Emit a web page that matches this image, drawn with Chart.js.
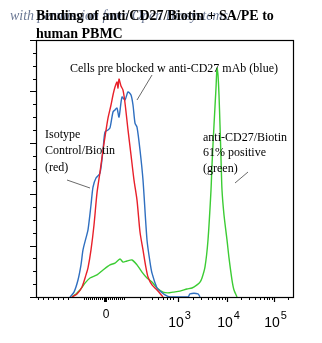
<!DOCTYPE html>
<html>
<head>
<meta charset="utf-8">
<script src="https://cdn.jsdelivr.net/npm/chart.js@4.4.0/dist/chart.umd.min.js"></script>
<style>
  html, body { margin: 0; padding: 0; background: #fff; }
  #wrap { width: 322px; height: 343px; position: relative; }
</style>
</head>
<body>
<div id="wrap"><canvas id="histo"></canvas></div>
<script>
// fluorescence channel (display units) vs. event count
const redX = [36, 41, 46, 50, 52, 55, 58, 61, 64, 67, 69, 72, 75, 77, 79, 81, 82, 83, 85, 87, 89, 92, 95, 98, 101, 104, 107, 110, 112, 116, 121, 127];
const redY = [0, 1.2, 3.9, 8.6, 11.3, 18.3, 28, 40.5, 48.6, 57.2, 62.3, 69.6, 74.7, 78.6, 81.7, 83.7, 81.3, 84.8, 82.1, 80.5, 75.5, 65, 55.3, 45.5, 37.7, 25.3, 18.3, 11.3, 7.8, 4.7, 2.7, 0];

const blueX = [34, 38, 42, 45, 47, 50, 52, 55, 57, 60, 64, 67, 69, 72, 74, 77, 79, 81, 83, 86, 89, 92, 95, 97, 99, 101, 104, 107, 111, 114, 116, 121, 124, 129, 134, 152, 154, 162, 164];
const blueY = [0, 1.9, 6.6, 12.5, 18.3, 23, 26.1, 35.8, 42.8, 46.3, 48.2, 57.2, 64.2, 65, 65.8, 72, 72.8, 73.5, 70, 77.8, 76.7, 79.8, 78.6, 74.7, 67.7, 66.1, 57.2, 45.5, 22.2, 13.6, 9.3, 3.5, 2.3, 0.8, 0, 0, 1.2, 1.2, 0];

const greenX = [36, 40, 44, 49, 54, 61, 67, 74, 79, 84, 87, 91, 96, 101, 106, 111, 116, 121, 127, 132, 137, 144, 151, 156, 161, 164, 166, 169, 172, 175, 176, 178, 180, 181, 182, 183, 184, 185, 186, 188, 191, 193, 196, 198, 201];
const greenY = [0, 1.2, 2.7, 5.4, 7.4, 8.6, 10.5, 12.5, 13.2, 14.8, 13.6, 14, 14.4, 12.5, 9.7, 7.4, 5.8, 3.5, 1.9, 1.6, 1.9, 2.3, 3.1, 3.5, 4.7, 5.8, 7.4, 11.7, 22.2, 41.6, 51.4, 66.9, 81.3, 89.1, 86.4, 78.6, 66.9, 54.1, 41.6, 31.9, 22.2, 15.2, 6.6, 2.7, 0];

// x axis: labelled decades and minor ticks (channel units)
const majorTicks = [69, 142, 191, 238];
const labelBase = ['0', '10', '10', '10'];
const labelExp = ['', '3', '4', '5'];
const minorTicks = [2, 7, 12, 17, 22, 27, 32, 48, 50, 52, 54, 56, 58, 60, 62, 64, 66, 72, 74, 76, 78, 80, 82, 84, 86, 88,
  104, 116, 122, 127, 131, 134, 137, 157, 165, 172, 176, 180, 183, 186, 189, 205, 213, 219, 224, 228, 231, 233, 236, 252];

const pts = (xs, ys) => xs.map((x, i) => ({ x: x, y: ys[i] }));

const decorations = {
    id: 'decorations',
    afterDraw(chart) {
        const { ctx, chartArea: a, scales } = chart;
        const sx = scales.x, sy = scales.y;
        ctx.save();

        // frame
        ctx.strokeStyle = '#000';
        ctx.lineWidth = 1.2;
        ctx.strokeRect(a.left + 0.5, a.top + 0.5, a.right - a.left, a.bottom - a.top);

        // y ticks (no labels)
        ctx.lineWidth = 1;
        for (let v = 0; v <= 100; v += 5) {
            const y = Math.round(sy.getPixelForValue(v)) + 0.5;
            const len = v % 20 === 0 ? 6 : 3;
            ctx.beginPath();
            ctx.moveTo(a.left - len, y);
            ctx.lineTo(a.left, y);
            ctx.stroke();
        }

        // x ticks
        minorTicks.forEach(c => {
            const x = Math.round(sx.getPixelForValue(c)) + 0.5;
            ctx.beginPath();
            ctx.moveTo(x, a.bottom);
            ctx.lineTo(x, a.bottom + 3);
            ctx.stroke();
        });
        majorTicks.forEach((c, i) => {
            const x = Math.round(sx.getPixelForValue(c)) + 0.5;
            ctx.lineWidth = i === 0 ? 3 : 1.2;
            ctx.beginPath();
            ctx.moveTo(x, a.bottom);
            ctx.lineTo(x, a.bottom + 5);
            ctx.stroke();
        });

        // x tick labels
        ctx.fillStyle = '#000';
        ctx.textBaseline = 'alphabetic';
        majorTicks.forEach((c, i) => {
            const x = sx.getPixelForValue(c);
            if (!labelExp[i]) {
                ctx.font = '12px "Liberation Sans", Arial, sans-serif';
                ctx.textAlign = 'center';
                ctx.fillText(labelBase[i], x + 1, 318);
                return;
            }
            ctx.font = '14px "Liberation Sans", Arial, sans-serif';
            const wb = ctx.measureText(labelBase[i]).width;
            ctx.font = '11px "Liberation Sans", Arial, sans-serif';
            const we = ctx.measureText(labelExp[i]).width;
            const left = x + 1 - (wb + we) / 2;
            ctx.textAlign = 'left';
            ctx.font = '14px "Liberation Sans", Arial, sans-serif';
            ctx.fillText(labelBase[i], left, 327);
            ctx.font = '11px "Liberation Sans", Arial, sans-serif';
            ctx.fillText(labelExp[i], left + wb + 1, 319);
        });

        // faint watermark behind title
        ctx.globalAlpha = 0.7;
        ctx.fillStyle = '#2c3e66';
        ctx.font = 'italic 14px "Liberation Serif", "DejaVu Serif", serif';
        ctx.textAlign = 'left';
        ctx.fillText('with permission from Open Biosystems', 10, 20);
        ctx.globalAlpha = 1;

        // title
        ctx.fillStyle = '#000';
        ctx.font = 'bold 14px "Liberation Serif", "DejaVu Serif", serif';
        ctx.fillText('Binding of anti/CD27/Biotin + SA/PE to', 36, 20);
        ctx.fillText('human PBMC', 36, 38);

        // annotations
        ctx.font = '12px "Liberation Serif", "DejaVu Serif", serif';
        ctx.fillText('Cells pre blocked w anti-CD27 mAb (blue)', 70, 72);
        ctx.fillText('Isotype', 45, 138);
        ctx.fillText('Control/Biotin', 45, 154);
        ctx.fillText('(red)', 45, 171);
        ctx.fillText('anti-CD27/Biotin', 203, 141);
        ctx.fillText('61% positive', 203, 156);
        ctx.fillText('(green)', 203, 172);

        ctx.strokeStyle = '#444';
        ctx.lineWidth = 0.8;
        [[152, 75, 137, 100], [67, 180, 90, 188], [248, 172, 235, 183]].forEach(([x1, y1, x2, y2]) => {
            ctx.beginPath();
            ctx.moveTo(x1, y1);
            ctx.lineTo(x2, y2);
            ctx.stroke();
        });
        ctx.restore();
    }
};

new Chart(document.getElementById('histo'), {
    type: 'line',
    data: {
        datasets: [
            { label: 'Isotype Control/Biotin', data: pts(redX, redY), borderColor: '#e8202a' },
            { label: 'Cells pre blocked', data: pts(blueX, blueY), borderColor: '#2f6fc0' },
            { label: 'anti-CD27/Biotin', data: pts(greenX, greenY), borderColor: '#3ccc34' }
        ]
    },
    options: {
        responsive: true,
        maintainAspectRatio: false,
        animation: false,
        layout: { padding: { left: 36, right: 29, top: 40, bottom: 46 } },
        elements: {
            line: { borderWidth: 1.4, tension: 0.25, fill: false },
            point: { radius: 0 }
        },
        scales: {
            x: { type: 'linear', display: false, min: 0, max: 257 },
            y: { display: false, min: 0, max: 100 }
        },
        plugins: {
            legend: { display: false },
            tooltip: { enabled: false }
        }
    },
    plugins: [decorations]
});
</script>
</body>
</html>
